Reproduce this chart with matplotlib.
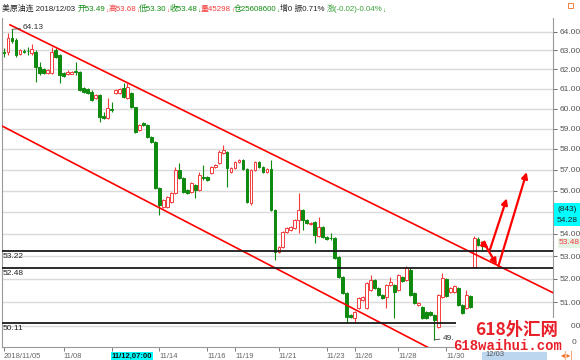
import matplotlib

matplotlib.use("Agg")

import matplotlib.pyplot as plt
import numpy as np
from matplotlib.patches import Rectangle
from matplotlib.ticker import NullLocator

plt.rcParams["font.family"] = ["Liberation Sans", "Noto Sans CJK SC", "DejaVu Sans"]

W, H = 580, 360

# --- 4h candles, US crude continuous, 2018/11/05 .. 2018/12/03 ---------------
opens = [62.93, 62.93, 63.66, 63.56, 62.80, 62.99, 62.97, 62.87, 62.93, 62.15,
         62.03, 61.84, 61.80, 63.03, 62.76, 61.80, 61.77, 61.77, 61.90, 61.89,
         61.05, 60.99, 60.86, 60.55, 60.69, 59.63, 59.53, 59.98, 60.79, 60.77,
         61.05, 60.53, 60.79, 60.08, 58.93, 59.28, 59.18, 58.58, 58.34, 56.13,
         55.24, 55.24, 55.47, 55.89, 56.98, 56.60, 56.03, 55.94, 56.27, 56.03,
         56.66, 56.65, 56.84, 57.12, 57.32, 57.80, 57.85, 56.89, 57.08, 57.37,
         57.46, 57.03, 55.42, 56.98, 57.37, 57.12, 56.89, 57.03, 55.10, 53.19,
         53.41, 54.09, 54.18, 54.27, 54.64, 55.10, 54.64, 54.45, 54.54, 53.91,
         54.32, 53.86, 53.83, 53.82, 52.96, 52.08, 51.39, 50.44, 50.32, 50.74,
         51.09, 50.74, 51.52, 51.95, 51.60, 51.30, 51.21, 51.73, 51.73, 51.52,
         52.08, 51.95, 52.39, 51.39, 50.87, 50.78, 50.57, 50.57, 50.44, 49.94,
         51.21, 51.99, 51.43, 51.43, 51.60, 50.87, 50.74, 51.26, 52.52, 53.77,
         53.49]
highs = [63.13, 63.93, 64.13, 63.66, 63.08, 63.08, 63.18, 63.34, 63.03, 62.41,
         62.08, 62.03, 63.18, 63.13, 62.82, 61.85, 61.95, 61.93, 62.41, 61.93,
         61.10, 61.04, 60.96, 60.74, 60.74, 59.84, 60.53, 60.33, 61.00, 61.05,
         61.30, 61.30, 60.84, 60.10, 59.23, 59.34, 59.23, 58.63, 58.39, 56.17,
         55.62, 55.75, 55.94, 57.12, 57.32, 56.65, 56.08, 56.41, 56.32, 56.88,
         57.22, 56.70, 57.17, 57.27, 57.95, 58.19, 57.90, 57.12, 57.42, 57.51,
         57.51, 57.08, 57.03, 57.42, 57.42, 57.17, 57.08, 57.46, 55.15, 53.46,
         54.14, 54.32, 54.36, 54.68, 55.89, 55.15, 54.68, 54.55, 54.59, 54.78,
         54.36, 53.91, 54.04, 53.86, 53.00, 52.12, 51.43, 50.49, 50.62, 51.21,
         51.26, 51.86, 52.17, 51.99, 51.65, 51.35, 51.78, 52.08, 51.78, 52.21,
         52.12, 52.57, 52.48, 51.43, 51.00, 50.83, 50.61, 50.61, 50.49, 51.35,
         52.26, 52.04, 51.65, 51.73, 51.65, 50.91, 51.52, 51.30, 53.91, 53.86,
         53.68]
lows = [62.66, 62.76, 63.40, 62.66, 62.75, 62.88, 62.76, 62.76, 61.35, 61.72,
        61.78, 61.78, 61.77, 62.60, 61.30, 61.60, 61.72, 61.74, 61.72, 60.90,
        60.80, 60.75, 60.38, 60.50, 59.34, 59.45, 59.48, 59.84, 60.74, 60.72,
        60.53, 60.48, 60.03, 58.78, 58.88, 59.13, 58.53, 58.29, 56.08, 54.87,
        55.19, 55.19, 55.42, 55.85, 56.55, 55.89, 55.84, 55.89, 55.66, 55.98,
        56.50, 56.45, 56.79, 57.08, 57.27, 57.75, 56.17, 56.84, 57.03, 57.32,
        56.98, 55.42, 55.33, 56.94, 57.08, 56.84, 56.84, 55.05, 52.83, 53.14,
        53.37, 54.04, 54.13, 54.22, 54.04, 54.18, 54.45, 54.41, 53.59, 53.86,
        53.82, 53.73, 53.73, 52.87, 52.04, 51.35, 50.11, 50.32, 50.11, 50.70,
        51.04, 50.70, 51.47, 51.56, 51.26, 51.13, 50.74, 51.69, 50.32, 51.47,
        51.86, 51.91, 51.26, 50.91, 50.83, 50.28, 50.28, 50.40, 49.41, 49.89,
        51.17, 51.21, 51.39, 51.39, 50.83, 50.49, 50.70, 50.74, 52.50, 53.46,
        53.30]
closes = [62.85, 63.65, 63.50, 62.76, 63.03, 62.93, 62.95, 63.08, 62.15, 61.84,
          61.82, 61.98, 62.93, 62.67, 61.72, 61.66, 61.89, 61.89, 61.87, 60.94,
          60.86, 60.80, 60.43, 60.69, 59.59, 59.53, 60.03, 59.93, 60.94, 60.99,
          60.59, 61.09, 60.08, 58.83, 59.18, 59.18, 58.58, 58.34, 56.13, 55.33,
          55.56, 55.70, 55.89, 56.98, 56.60, 55.94, 55.89, 56.36, 56.03, 56.74,
          56.62, 56.50, 57.12, 57.22, 57.85, 57.95, 57.08, 57.08, 57.37, 57.46,
          57.03, 55.47, 56.98, 57.37, 57.12, 56.89, 57.03, 55.10, 53.19, 53.41,
          54.09, 54.27, 54.32, 54.64, 55.10, 54.64, 54.50, 54.50, 53.95, 54.32,
          53.86, 53.77, 53.80, 52.92, 52.08, 51.39, 50.36, 50.36, 50.57, 51.17,
          51.21, 51.82, 51.95, 51.60, 51.30, 51.17, 51.73, 51.86, 51.43, 52.17,
          51.91, 52.48, 51.30, 50.96, 50.96, 50.32, 50.32, 50.44, 50.23, 51.30,
          52.04, 51.26, 51.60, 51.69, 50.87, 50.53, 51.30, 50.78, 53.82, 53.50,
          53.48]

price_ticks = [50, 51, 52, 53, 54, 55, 56, 57, 58, 59, 60, 61, 62, 63, 64]
hidden_tick = 55  # sits under the cyan last-price box
date_labels = ["2018/11/05", "11/08", "11/12,07:00", "11/14", "11/16", "11/19",
               "11/21", "11/23", "11/26", "11/28", "11/30"]
date_idx = [0, 15, 27, 39, 51, 58, 69, 81, 88, 99, 111]

levels = [53.22, 52.48, 50.11]
high_mark = (2, 64.13)
low_mark = (108, 49.41)

# channel drawn on the chart: (candle index, price) end points
upper_channel = ([1.5, 137.8], [64.37, 51.40])
lower_channel = ([-1.0, 109.5], [59.18, 48.83])

# hand-drawn arrows: (from, to) in (candle index, price)
arrows = [((119.9, 53.61), (121.6, 53.35)),
          ((122.0, 53.31), (126.2, 55.64)),
          ((120.8, 53.50), (123.7, 52.61)),
          ((124.1, 52.57), (131.2, 56.88))]

RED = "#f23c3c"
GRN = "#0f8a0f"
DARK = "#222222"

header = [("美原油连 2018/12/03 ", DARK),
          ("开53.49", GRN), ("↓", RED),
          ("高53.68", RED), ("↓", RED),
          ("低53.30", GRN), ("↓", RED),
          ("收53.48", GRN), ("↓", GRN),
          ("量45298", RED), ("↑", RED),
          ("仓25608600", GRN), ("↓", GRN),
          ("增0 振0.71% ", DARK),
          ("涨(-0.02)-0.04%", "#3aa03a"), ("↓", GRN)]


def fx(px):
    return px / W


def fy(py):
    return 1 - py / H


fig = plt.figure(figsize=(W / 100, H / 100), dpi=100)
ax = fig.add_axes([fx(2), fy(347), 551 / W, 329 / H])
ax.set_yscale("log")
ax.set_ylim(49.11, 64.74)
ax.set_xlim(-0.5, 137.8)

# candles: red hollow = up, green filled = down
o, h, l, c = (np.asarray(a) for a in (opens, highs, lows, closes))
k = np.arange(len(o))
up = c >= o
col = np.where(up, RED, GRN)
ax.vlines(k, l, h, colors=col, lw=0.8, zorder=3)
ax.bar(k, np.maximum(np.abs(c - o), 0.025), bottom=np.minimum(o, c), width=0.7,
       color=np.where(up, "white", GRN), edgecolor=col, lw=0.7, zorder=4)

# y axis on the right, log scaled like the terminal
ax.yaxis.tick_right()
ax.set_yticks(price_ticks)
ax.set_yticklabels(["" if v == hidden_tick else f"{v:.2f}" for v in price_ticks])
ax.yaxis.set_minor_locator(NullLocator())
ax.tick_params(axis="y", labelsize=6, colors="#555555", length=3, width=0.6, pad=2)
ax.grid(axis="y", color="#dadada", lw=1.0, zorder=0)

ax.set_xticks(date_idx)
ax.set_xticklabels(date_labels)
ax.tick_params(axis="x", labelsize=5.5, colors="#666666", length=3, width=0.6, pad=1.5)
for lab in ax.get_xticklabels():
    lab.set_ha("left")
hl = ax.get_xticklabels()[2]
hl.set_color("#111111")
hl.set_fontweight("bold")
hl.set_bbox(dict(facecolor="#00ffff", edgecolor="none", pad=0.6))

ax.spines["top"].set_visible(False)
for s in ("left", "bottom", "right"):
    ax.spines[s].set_color("#999999")
    ax.spines[s].set_linewidth(0.8)

# channel and support lines
ax.plot(*upper_channel, color="red", lw=1.2, zorder=5)
ax.plot(*lower_channel, color="red", lw=1.2, zorder=5)
for v in levels:
    ax.axhline(v, color="#1a1a1a", lw=1.3, zorder=5)
    ax.annotate(f"{v:.2f}", xy=(0, v), xycoords=("axes fraction", "data"),
                xytext=(0.5, -1.5), textcoords="offset points", va="top",
                fontsize=6, color=DARK, zorder=6)

ax.annotate(f"{high_mark[1]:.2f}", xy=high_mark, xytext=(8, 1), textcoords="offset points",
            va="center", fontsize=6, color="#333333", zorder=6,
            arrowprops=dict(arrowstyle="-", color="#444444", lw=0.6, shrinkA=0, shrinkB=0))
ax.annotate(f"{low_mark[1]:.0f}.", xy=low_mark, xytext=(6, 1), textcoords="offset points",
            va="center", fontsize=6, color="#333333", zorder=6,
            arrowprops=dict(arrowstyle="-", color="#444444", lw=0.6, shrinkA=0, shrinkB=0))

for start, end in arrows:
    ax.annotate("", xy=end, xytext=start,
                arrowprops=dict(arrowstyle="-|>", color="red", lw=1.6,
                                mutation_scale=9, shrinkA=0, shrinkB=0),
                zorder=7)

# header line, pieces chained left to right
t = fig.text(fx(2), fy(13), header[0][0], color=header[0][1], fontsize=5.7, va="bottom")
for s, colr in header[1:]:
    t = ax.annotate(s, xy=(1, 0), xycoords=t, va="bottom", ha="left", color=colr,
                    fontsize=4.5 if s in "↓↑" else 5.7, annotation_clip=False)

fig.add_artist(Rectangle((fx(568), fy(8)), 5 / W, 5 / H, transform=fig.transFigure,
                         facecolor="none", edgecolor="#f08040", lw=0.7))

# last price boxes on the right axis
fig.add_artist(Rectangle((fx(554), fy(226)), 26 / W, 23 / H, transform=fig.transFigure,
                         facecolor="#00ffff", edgecolor="none", zorder=5))
fig.text(fx(567), fy(209), "(843)", fontsize=6, ha="center", va="center", color=DARK, zorder=6)
fig.text(fx(567), fy(220), "54.28", fontsize=6, ha="center", va="center", color=DARK, zorder=6)
fig.text(fx(559), fy(243), "53.48", fontsize=6, ha="left", va="center", color=RED,
         bbox=dict(facecolor="#e4f4e4", edgecolor="none", pad=0.8), zorder=6)

# bottom right bits
fig.add_artist(Rectangle((fx(482), fy(360)), 65 / W, 8 / H, transform=fig.transFigure,
                         facecolor="#bcd6f0", edgecolor="none", zorder=5))
fig.text(fx(485), fy(355), "12/03", fontsize=5.5, va="center", color="#555555", zorder=6)
fig.text(fx(572), fy(343), "0", fontsize=6, va="center", color="#555555")
fig.text(fx(561), fy(355), "◂|▸|", fontsize=5.5, va="center", color="#f07020",
         family=["DejaVu Sans"])

# watermark
fig.add_artist(Rectangle((fx(456), fy(351)), 115 / W, 33 / H, transform=fig.transFigure,
                         facecolor="white", edgecolor="none", zorder=10))
fig.text(fx(517), fy(330), "618外汇网", fontsize=12.5, fontweight="bold", color="#e8202a",
         ha="center", va="center", family=["Noto Sans CJK SC"], zorder=11)
fig.text(fx(508), fy(346), "618waihui.com", fontsize=10, fontweight="bold", color="#e8202a",
         ha="center", va="center", family=["Liberation Mono"], zorder=11)

fig.savefig("out.png", dpi=100)
